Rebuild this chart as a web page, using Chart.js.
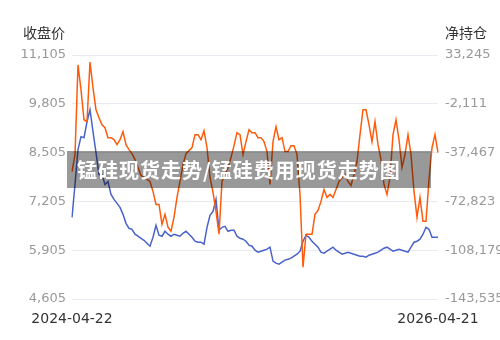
<!DOCTYPE html>
<html>
<head>
<meta charset="utf-8">
<script src="https://cdn.jsdelivr.net/npm/chart.js@4/dist/chart.umd.min.js"></script>
<style>
  html, body { margin: 0; padding: 0; background: #fff; }
  #wrap { position: relative; width: 500px; height: 340px; overflow: hidden; }
  canvas { position: absolute; left: 0; top: 0; }
  .ttl { position: absolute; top: 22px; font: 14px "DejaVu Sans", "Noto Sans CJK SC", sans-serif; color: #333; white-space: nowrap; }
  #banner { position: absolute; left: 67px; top: 151px; width: 364px; height: 37px; background: rgba(0,0,0,0.4);
            color: #fff; font: bold 20px "Noto Sans CJK SC", sans-serif; line-height: 37px; padding-left: 10px; box-sizing: border-box; letter-spacing: 1px; white-space: nowrap; }
</style>
</head>
<body>
<div id="wrap">
  <canvas id="c" width="500" height="340"></canvas>
  <div class="ttl" style="left:23px">收盘价</div>
  <div class="ttl" style="left:445px">净持仓</div>
  <div id="banner">锰硅现货走势/锰硅费用现货走势图</div>
</div>
<script>
const startDate = "2024-04-22";
const endDate = "2026-04-21";
const leftTicks = [4605, 5905, 7205, 8505, 9805, 11105];
const rightTicks = [-143535, -108179, -72823, -37467, -2111, 33245];
const seriesNames = ["收盘价", "净持仓"];

const closePrice = [
  6781, 7656, 8585, 8930, 8903, 9327, 9646, 9062, 8505, 7921,
  7921, 7656, 7736, 7391, 7258, 7152, 7046, 6860, 6621, 6489,
  6462, 6330, 6277, 6223, 6170, 6091, 6011, 6250, 6568, 6303,
  6277, 6409, 6330, 6277, 6330, 6303, 6277, 6356, 6409, 6330,
  6250, 6144, 6117, 6117, 6064, 6515, 6834, 6940, 7258, 6436,
  6515, 6542, 6409, 6436, 6436, 6277, 6223, 6197, 6144, 6038,
  6011, 5905, 5852, 5879, 5905, 5932, 5985, 5613, 5560, 5534,
  5587, 5640, 5666, 5693, 5746, 5799, 5879, 6144, 6303, 6250,
  6144, 6064, 5985, 5852, 5826, 5879, 5932, 5985, 5905, 5852,
  5799, 5826, 5852, 5826, 5799, 5772, 5746, 5746, 5719, 5772,
  5799, 5826, 5852, 5905, 5958, 5985, 5932, 5879, 5905, 5932,
  5905, 5879, 5852, 5985, 6117, 6144, 6197, 6330, 6515, 6462,
  6250, 6250, 6250
];

const netPosition = [
  -51176, -38910, 26029, 7991, -13656, -15099, 28194, 9434, -6440, -12213,
  -17264, -19428, -26644, -26644, -28087, -31695, -28087, -22314, -31695, -35302,
  -38188, -42518, -48290, -54063, -55506, -56949, -58392, -65607, -74988, -74988,
  -89419, -82203, -91583, -94469, -84368, -69937, -58392, -46126, -38188, -36024,
  -33859, -24479, -24479, -28087, -21593, -33859, -55506, -66329, -80038, -96634,
  -58392, -53341, -48290, -41075, -32416, -23036, -24479, -38910, -29530, -20871,
  -23036, -23036, -26644, -26644, -29530, -36745, -60557, -29530, -18707, -28087,
  -26644, -36745, -36745, -32416, -32416, -38910, -67772, -120445, -96634, -96634,
  -96634, -82203, -79317, -72823, -64164, -69937, -67772, -69937, -64164, -58392,
  -55506, -53341, -58392, -61278, -53341, -43961, -24479, -6440, -6440, -17264,
  -29530, -15099, -31695, -42518, -60557, -67772, -55506, -24479, -13656, -28087,
  -48290, -38910, -24479, -38910, -65607, -84368, -69937, -87254, -87254, -56949,
  -33859, -24479, -37467
];

// category labels: evenly spaced dates between start and end
const labels = [];
(function () {
  const s = new Date(startDate + "T00:00:00Z").getTime();
  const e = new Date(endDate + "T00:00:00Z").getTime();
  const n = closePrice.length;
  for (let i = 0; i < n; i++) {
    const t = s + Math.round(i * (e - s) / 86400000 / (n - 1)) * 86400000;
    labels.push(new Date(t).toISOString().slice(0, 10));
  }
  labels[0] = startDate;
  labels[n - 1] = endDate;
})();

const fmt = v => Math.round(v).toLocaleString("en-US");
const tickFont = { family: "DejaVu Sans", size: 13 };

new Chart(document.getElementById("c"), {
  type: "line",
  data: {
    labels: labels,
    datasets: [
      { label: seriesNames[0], data: closePrice, yAxisID: "yL", borderColor: "#4a63c9", borderWidth: 1.5, pointRadius: 0, tension: 0, order: 2 },
      { label: seriesNames[1], data: netPosition, yAxisID: "yR", borderColor: "#ff5b0a", borderWidth: 1.5, pointRadius: 0, tension: 0, order: 1 }
    ]
  },
  options: {
    responsive: false,
    animation: false,
    devicePixelRatio: 1,
    layout: { padding: { top: 55, left: 0, right: 0, bottom: 0 } },
    plugins: { legend: { display: false }, tooltip: { enabled: false } },
    scales: {
      x: {
        type: "category",
        offset: false,
        grid: { display: false, drawTicks: false },
        border: { display: false },
        ticks: {
          autoSkip: false, maxRotation: 0, minRotation: 0, padding: 12,
          color: "#333", font: { family: "DejaVu Sans", size: 14 },
          callback: function (v, i) { return (i === 0 || i === labels.length - 1) ? labels[i] : null; }
        },
        afterFit: s => { s.height = 41; }
      },
      yL: {
        position: "left", min: leftTicks[0], max: leftTicks[leftTicks.length - 1],
        grid: { color: "#e8ebf2", lineWidth: 1, drawTicks: false },
        border: { display: false },
        afterBuildTicks: s => { s.ticks = leftTicks.map(v => ({ value: v })); },
        ticks: { color: "#999", font: tickFont, padding: 6, callback: v => fmt(v) },
        afterFit: s => { s.width = 72; }
      },
      yR: {
        position: "right", min: rightTicks[0], max: rightTicks[rightTicks.length - 1],
        grid: { display: false, drawTicks: false },
        border: { display: false },
        afterBuildTicks: s => { s.ticks = rightTicks.map(v => ({ value: v })); },
        ticks: { color: "#999", font: tickFont, padding: 7, callback: v => fmt(v) },
        afterFit: s => { s.width = 62; }
      }
    }
  }
});
</script>
</body>
</html>
